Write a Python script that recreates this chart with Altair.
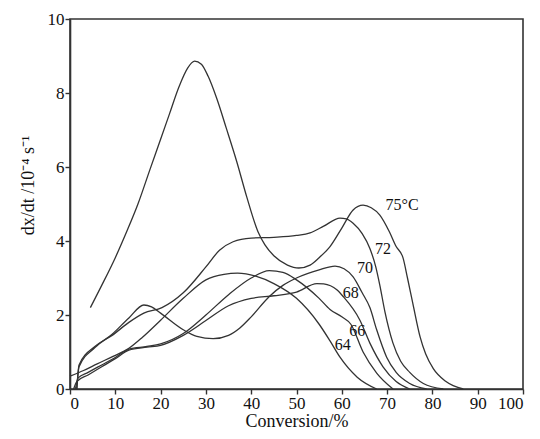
import altair as alt
import pandas as pd

# ---- data ----
x75 = [4.5, 7, 10, 12.5, 15, 17.7, 20, 22, 24, 26, 27.5, 29, 30.5, 32.4, 34.5, 36.8, 39, 41.5, 43, 45, 48, 50.5, 53, 55, 57.4, 60, 62.5, 64.7, 66.5, 68.4, 70.5, 72, 73.5, 74.5, 75.7, 77.3, 78.5, 80.2, 83, 86.8]
y75 = [2.2, 2.8, 3.55, 4.25, 5.0, 5.95, 6.75, 7.45, 8.15, 8.68, 8.86, 8.78, 8.45, 7.85, 7.05, 6.15, 5.2, 4.25, 3.9, 3.6, 3.35, 3.27, 3.35, 3.55, 3.85, 4.35, 4.84, 4.97, 4.9, 4.7, 4.25, 3.85, 3.55, 3.0, 2.3, 1.4, 0.95, 0.55, 0.2, 0.0]

x72 = [1.5, 2, 5.5, 9.3, 13, 16.3, 20.3, 25, 30, 33, 36, 40, 45, 50, 53, 56, 59.6, 61, 62.5, 64.5, 66.2, 67.5, 68.4, 69.5, 71.3, 73, 75, 78, 82.4]
y72 = [0.0, 0.65, 1.15, 1.45, 1.8, 2.05, 2.2, 2.6, 3.3, 3.75, 3.98, 4.08, 4.1, 4.15, 4.22, 4.4, 4.62, 4.6, 4.48, 4.2, 3.8, 3.3, 2.8, 2.1, 1.24, 0.75, 0.45, 0.15, 0.0]

x70 = [1.5, 2, 5.5, 9.3, 13, 16.3, 18, 20, 25, 28, 31.6, 35, 37.5, 40, 44, 47, 50, 55, 58.5, 60.5, 62.5, 64.5, 66.2, 67.7, 69.9, 72, 75, 78.7]
y70 = [0.0, 0.6, 1.12, 1.48, 1.92, 2.27, 2.22, 2.05, 1.6, 1.42, 1.36, 1.45, 1.65, 1.95, 2.5, 2.8, 3.0, 3.22, 3.32, 3.25, 3.03, 2.6, 2.2, 1.6, 0.86, 0.45, 0.15, 0.0]

x68 = [0.8, 1.5, 4, 7, 10, 13, 17, 20, 25, 30, 35, 40, 45, 50, 54.5, 56, 58.9, 60.3, 64, 66.2, 69.1, 72, 75]
y68 = [0.0, 0.2, 0.38, 0.6, 0.82, 1.05, 1.13, 1.18, 1.45, 1.85, 2.25, 2.45, 2.52, 2.62, 2.85, 2.84, 2.68, 2.5, 1.86, 1.24, 0.6, 0.2, 0.0]

x66 = [1.2, 1.8, 4, 7, 10, 13, 17, 20, 25, 30, 35, 40, 44, 47, 50, 55, 57.4, 60, 62, 64.7, 67.7, 71.3]
y66 = [0.0, 0.3, 0.45, 0.65, 0.85, 1.08, 1.15, 1.22, 1.5, 2.0, 2.55, 3.0, 3.2, 3.15, 2.95, 2.45, 2.15, 1.95, 1.75, 1.0, 0.43, 0.0]

x64 = [0, 3, 6, 9.5, 13, 16, 20, 25, 30, 34, 37, 41, 45, 50, 55, 57.4, 59.6, 63.4, 67.7]
y64 = [0.35, 0.5, 0.68, 0.88, 1.1, 1.4, 1.86, 2.45, 2.95, 3.1, 3.13, 3.05, 2.85, 2.45, 1.75, 1.3, 0.86, 0.32, 0.0]

series_names = ["75", "72", "70", "68", "66", "64"]
series_x = [x75, x72, x70, x68, x66, x64]
series_y = [y75, y72, y70, y68, y66, y64]

label_text = ["75°C", "72", "70", "68", "66", "64"]
label_x = [73.3, 69.1, 65.1, 62.0, 63.4, 60.2]
label_y = [4.97, 3.78, 3.27, 2.6, 1.58, 1.19]

x_ticks = list(range(0, 101, 10))
y_ticks = [0, 2, 4, 6, 8, 10]

# ---- build tables ----
rows = []
for name, xs, ys in zip(series_names, series_x, series_y):
    for i, (a, b) in enumerate(zip(xs, ys)):
        rows.append({"series": name, "order": i, "x": a, "y": b})
df = pd.DataFrame(rows)
lab = pd.DataFrame({"text": label_text, "x": label_x, "y": label_y})

FONT = "Liberation Serif"
INK = "#333333"

xscale = alt.Scale(domain=[0, 100], nice=False, zero=False)
yscale = alt.Scale(domain=[0, 10], nice=False, zero=False)

lines = alt.Chart(df).mark_line(
    interpolate="monotone", color=INK, strokeWidth=1.3
).encode(
    x=alt.X("x:Q", scale=xscale,
            axis=alt.Axis(values=x_ticks, title="Conversion/%", format="d",
                          titleX=226.5, titleY=32.5, titleBaseline="middle",
                          titleAlign="center")),
    y=alt.Y("y:Q", scale=yscale,
            axis=alt.Axis(values=y_ticks, title="dx/dt /10⁻⁴ s⁻¹", format="d",
                          titleX=-42, titleY=166, titleBaseline="middle",
                          titleAlign="center", titleAngle=270)),
    detail="series:N",
    order="order:Q",
)

labels = alt.Chart(lab).mark_text(
    font=FONT, fontSize=16, color="#111111", align="center", baseline="middle"
).encode(
    x=alt.X("x:Q", scale=xscale),
    y=alt.Y("y:Q", scale=yscale),
    text="text:N",
)

chart = alt.layer(lines, labels).properties(
    width=453, height=370,
    autosize=alt.AutoSizeParams(type="none"),
    padding={"left": 62, "top": 11, "right": 9, "bottom": 42},
).configure_view(
    stroke=INK, strokeWidth=1.6
).configure_axis(
    domainColor=INK, domainWidth=1.6, tickColor=INK, tickWidth=1.4, tickSize=5,
    grid=False, labelFont=FONT, labelFontSize=17, labelColor="#111111",
    titleFont=FONT, titleFontSize=18, titleColor="#111111", titleFontWeight="normal",
    labelPadding=1,
)

chart.save("out.html", embed_options={"renderer": "svg", "actions": False})
